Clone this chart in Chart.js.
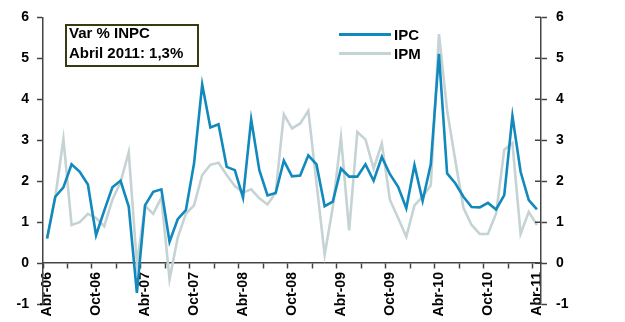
<!DOCTYPE html>
<html>
<head>
<meta charset="utf-8">
<script src="https://cdn.jsdelivr.net/npm/chart.js@4/dist/chart.umd.min.js"></script>
<style>
  html, body { margin: 0; padding: 0; background: #fff; }
  #wrap { position: relative; width: 625px; height: 322px; }
  #box { position: absolute; left: 65px; top: 24px; width: 134px; height: 43px;
         border: 2px solid #3a3a12; box-sizing: border-box; }
  #boxText { position: absolute; left: 69px; top: 23px; font: bold 15px "Liberation Sans", Arial, sans-serif;
             line-height: 20px; color: #000; white-space: nowrap; }
  #legend { position: absolute; left: 339px; top: 25px; font: bold 15px "Liberation Sans", Arial, sans-serif;
            line-height: 19px; color: #000; }
  #legend .row { position: relative; height: 19px; padding-left: 55px; }
  #legend .swatch { position: absolute; left: 0; top: 8px; width: 52px; height: 2.5px; }
</style>
</head>
<body>
<div id="wrap">
  <canvas id="chart" width="625" height="322"></canvas>
  <div id="box"></div>
  <div id="boxText">Var % INPC<br>Abril 2011: 1,3%</div>
  <div id="legend"></div>
</div>
<script>
// months Abr-06 .. Abr-11
const months = [
  'Abr-06','May-06','Jun-06','Jul-06','Ago-06','Sep-06','Oct-06','Nov-06','Dic-06',
  'Ene-07','Feb-07','Mar-07','Abr-07','May-07','Jun-07','Jul-07','Ago-07','Sep-07','Oct-07','Nov-07','Dic-07',
  'Ene-08','Feb-08','Mar-08','Abr-08','May-08','Jun-08','Jul-08','Ago-08','Sep-08','Oct-08','Nov-08','Dic-08',
  'Ene-09','Feb-09','Mar-09','Abr-09','May-09','Jun-09','Jul-09','Ago-09','Sep-09','Oct-09','Nov-09','Dic-09',
  'Ene-10','Feb-10','Mar-10','Abr-10','May-10','Jun-10','Jul-10','Ago-10','Sep-10','Oct-10','Nov-10','Dic-10',
  'Ene-11','Feb-11','Mar-11','Abr-11'
];

const ipc = [
  0.60, 1.62, 1.85, 2.41, 2.23, 1.92, 0.68, 1.28, 1.85, 2.01, 1.38,
  -0.73, 1.41, 1.74, 1.80, 0.52, 1.07, 1.29, 2.43, 4.36, 3.31,
  3.39, 2.35, 2.27, 1.60, 3.51, 2.27, 1.65, 1.71, 2.50, 2.12,
  2.14, 2.63, 2.41, 1.39, 1.50, 2.31, 2.11, 2.11, 2.41, 2.01,
  2.59, 2.17, 1.86, 1.34, 2.39, 1.52, 2.41, 5.11, 2.19, 1.95,
  1.62, 1.37, 1.36, 1.47, 1.31, 1.66, 3.59, 2.23, 1.54, 1.31
];

const ipm = [
  0.60, 1.60, 3.03, 0.93, 1.00, 1.20, 1.10, 0.90, 1.55, 1.98, 2.71,
  -0.02, 1.40, 1.20, 1.60, -0.40, 0.62, 1.20, 1.41, 2.15, 2.40,
  2.45, 2.15, 1.88, 1.72, 1.80, 1.58, 1.43, 1.72, 3.63, 3.29,
  3.41, 3.72, 1.95, 0.20, 1.37, 3.07, 0.80, 3.20, 3.02, 2.31,
  2.92, 1.54, 1.10, 0.64, 1.41, 1.62, 1.90, 5.59, 3.73, 2.51,
  1.35, 0.93, 0.71, 0.71, 1.21, 2.77, 2.93, 0.71, 1.25, 0.93
];

const yTicks = [-1, 0, 1, 2, 3, 4, 5, 6];

const seriesNames = ['IPC', 'IPM'];
const seriesColors = ['#1189bd', '#c6d3d4'];

const font = '"Liberation Sans", Arial, sans-serif';
const axisColor = '#444';

const yAxis = (pos, pad) => ({
  type: 'linear',
  position: pos,
  min: yTicks[0],
  max: yTicks[yTicks.length - 1],
  afterBuildTicks: (s) => { s.ticks = yTicks.map(v => ({ value: v })); },
  grid: { drawOnChartArea: false, tickLength: 6, tickColor: axisColor, tickWidth: 1.5 },
  border: { color: axisColor, width: 1.5 },
  ticks: { color: '#000', padding: pad, font: { family: font, size: 14, weight: 'bold' } },
  afterFit: (s) => { s.width = pos === 'left' ? 43 : 84; }
});

// right axis ticks cross the axis line: add the inner half
const crossTicks = {
  id: 'crossTicks',
  afterDraw(chart) {
    const s = chart.scales.y2;
    const c = chart.ctx;
    c.save();
    c.strokeStyle = axisColor;
    c.lineWidth = 1.5;
    s.ticks.forEach(t => {
      const py = Math.round(s.getPixelForValue(t.value)) + 0.25;
      c.beginPath();
      c.moveTo(s.left - 6, py);
      c.lineTo(s.left, py);
      c.stroke();
    });
    c.restore();
  }
};

new Chart(document.getElementById('chart'), {
  type: 'line',
  data: {
    labels: months,
    datasets: [
      { label: seriesNames[0], data: ipc, borderColor: seriesColors[0], borderWidth: 2.6, order: 0 },
      { label: seriesNames[1], data: ipm, borderColor: seriesColors[1], borderWidth: 2.6, order: 1 }
    ]
  },
  options: {
    responsive: false,
    animation: false,
    elements: { point: { radius: 0 }, line: { tension: 0 } },
    layout: { padding: { top: 17, bottom: 18, left: 0, right: 0 } },
    plugins: { legend: { display: false }, tooltip: { enabled: false } },
    scales: {
      x: {
        type: 'category',
        position: { y: 0 },
        offset: true,
        grid: {
          offset: true,
          drawOnChartArea: false,
          tickLength: 5,
          tickWidth: 1.5,
          tickColor: (c) => (c.index % 3 === 0 ? axisColor : 'rgba(0,0,0,0)')
        },
        border: { color: axisColor, width: 1.5 },
        ticks: {
          autoSkip: false,
          minRotation: 90,
          maxRotation: 90,
          padding: 4,
          color: '#000',
          font: { family: font, size: 14, weight: 'bold' },
          callback: (v, i) => (i % 6 === 0 ? months[i] : '')
        }
      },
      y: yAxis('left', 8),
      y2: yAxis('right', 9)
    }
  },
  plugins: [crossTicks]
});

// legend, drawn as html next to the plot
const legend = document.getElementById('legend');
seriesNames.forEach((name, i) => {
  const row = document.createElement('div');
  row.className = 'row';
  row.innerHTML = '<span class="swatch" style="background:' + seriesColors[i] + '"></span>' + name;
  legend.appendChild(row);
});
</script>
</body>
</html>
